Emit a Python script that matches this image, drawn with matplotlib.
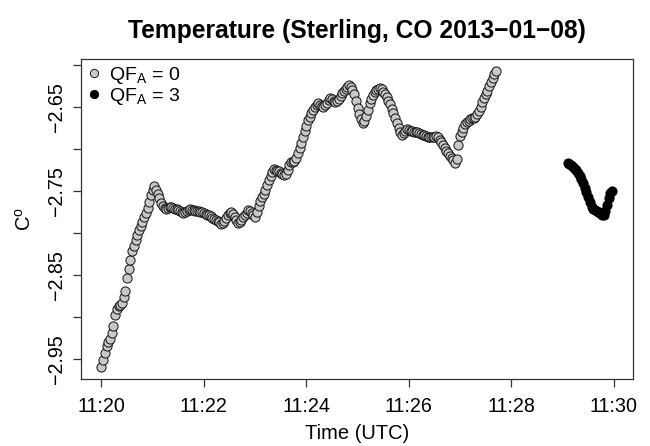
import numpy as np
import matplotlib
matplotlib.use("Agg")
import matplotlib.pyplot as plt
from matplotlib.lines import Line2D

plt.rcParams['font.family'] = ['Liberation Sans', 'DejaVu Sans']
plt.rcParams['mathtext.fontset'] = 'custom'
plt.rcParams['mathtext.rm'] = 'Liberation Sans'
plt.rcParams['mathtext.it'] = 'Liberation Sans:italic'
plt.rcParams['mathtext.bf'] = 'Liberation Sans:bold'

title = "Temperature (Sterling, CO 2013\u221201\u221208)"
xlabel = "Time (UTC)"
ylabel = r"C$^{\mathrm{o}}$"
legend_labels = [r"QF$_{\mathrm{A}}$ = 0", r"QF$_{\mathrm{A}}$ = 3"]

# time in seconds after 11:20:00 UTC, sampled every 2 s
qf0_start_sec = 0
qf3_start_sec = 546
step_sec = 2

qf0_temp = [
    -2.9590, -2.9507, -2.9422, -2.9341, -2.9299, -2.9257, -2.9185, -2.9103, -2.8977, -2.8901,
    -2.8873, -2.8852, -2.8832, -2.8765, -2.8694, -2.8540, -2.8431, -2.8322, -2.8211, -2.8150,
    -2.8089, -2.8026, -2.7966, -2.7917, -2.7867, -2.7815, -2.7761, -2.7698, -2.7628, -2.7543,
    -2.7491, -2.7440, -2.7488, -2.7536, -2.7587, -2.7640, -2.7679, -2.7703, -2.7709, -2.7701,
    -2.7693, -2.7695, -2.7702, -2.7709, -2.7716, -2.7725, -2.7736, -2.7746, -2.7757, -2.7749,
    -2.7739, -2.7729, -2.7719, -2.7723, -2.7728, -2.7733, -2.7738, -2.7744, -2.7749, -2.7754,
    -2.7760, -2.7770, -2.7780, -2.7790, -2.7802, -2.7817, -2.7832, -2.7847, -2.7862, -2.7875,
    -2.7888, -2.7884, -2.7853, -2.7822, -2.7791, -2.7767, -2.7749, -2.7769, -2.7805, -2.7841,
    -2.7876, -2.7868, -2.7840, -2.7812, -2.7785, -2.7757, -2.7730, -2.7744, -2.7766, -2.7787,
    -2.7809, -2.7747, -2.7682, -2.7617, -2.7577, -2.7536, -2.7494, -2.7433, -2.7374, -2.7326,
    -2.7278, -2.7244, -2.7250, -2.7257, -2.7267, -2.7282, -2.7297, -2.7312, -2.7299, -2.7245,
    -2.7190, -2.7160, -2.7153, -2.7146, -2.7109, -2.7048, -2.6987, -2.6926, -2.6858, -2.6787,
    -2.6722, -2.6661, -2.6615, -2.6574, -2.6533, -2.6504, -2.6476, -2.6454, -2.6475, -2.6495,
    -2.6506, -2.6477, -2.6448, -2.6419, -2.6395, -2.6411, -2.6428, -2.6445, -2.6434, -2.6402,
    -2.6369, -2.6337, -2.6309, -2.6285, -2.6262, -2.6238, -2.6266, -2.6294, -2.6346, -2.6427,
    -2.6509, -2.6590, -2.6648, -2.6687, -2.6667, -2.6608, -2.6534, -2.6453, -2.6401, -2.6361,
    -2.6320, -2.6300, -2.6286, -2.6272, -2.6293, -2.6320, -2.6346, -2.6386, -2.6427, -2.6468,
    -2.6522, -2.6576, -2.6630, -2.6693, -2.6753, -2.6796, -2.6829, -2.6806, -2.6783, -2.6767,
    -2.6774, -2.6781, -2.6788, -2.6793, -2.6798, -2.6803, -2.6810, -2.6820, -2.6830, -2.6840,
    -2.6848, -2.6853, -2.6858, -2.6863, -2.6861, -2.6854, -2.6847, -2.6864, -2.6891, -2.6918,
    -2.6951, -2.6985, -2.7019, -2.7050, -2.7080, -2.7107, -2.7134, -2.7162, -2.7121, -2.6958,
    -2.6843, -2.6796, -2.6748, -2.6704, -2.6683, -2.6663, -2.6645, -2.6638, -2.6632, -2.6617,
    -2.6583, -2.6549, -2.6505, -2.6442, -2.6390, -2.6351, -2.6307, -2.6256, -2.6204, -2.6152,
    -2.6108, -2.6071,
]

qf3_temp = [
    -2.7173, -2.7185, -2.7197, -2.7213, -2.7234, -2.7255, -2.7285, -2.7320, -2.7359, -2.7407,
    -2.7459, -2.7513, -2.7573, -2.7634, -2.7693, -2.7714, -2.7727, -2.7734, -2.7745, -2.7765,
    -2.7786, -2.7785, -2.7744, -2.7670, -2.7580, -2.7525, -2.7504,
]

xtick_min = [0, 2, 4, 6, 8, 10]
xtick_labels = ["11:20", "11:22", "11:24", "11:26", "11:28", "11:30"]
ytick_vals = [-2.95, -2.90, -2.85, -2.80, -2.75, -2.70, -2.65, -2.60]
ytick_labels = ["\u22122.95", "", "\u22122.85", "", "\u22122.75", "", "\u22122.65", ""]

qf0_t = (qf0_start_sec + step_sec * np.arange(len(qf0_temp))) / 60.0
qf3_t = (qf3_start_sec + step_sec * np.arange(len(qf3_temp))) / 60.0

W, H = 650, 446
fig = plt.figure(figsize=(W / 100, H / 100), dpi=100)
ax = fig.add_axes([81 / W, 1 - 378.5 / H, (632.5 - 81) / W, (378.5 - 59) / H])

ms = 6.6
ax.plot(qf0_t, qf0_temp, 'o', ms=ms, mfc='#c8c8c8', mec='#111111', mew=0.7, ls='none')
ax.plot(qf3_t, qf3_temp, 'o', ms=ms, mfc='black', mec='black', mew=0.7, ls='none')

# R-style 4% padding
allx = np.concatenate([qf0_t, qf3_t])
ally = np.concatenate([qf0_temp, qf3_temp])
dx = (allx.max() - allx.min()) * 0.04
dy = (ally.max() - ally.min()) * 0.04
ax.set_xlim(allx.min() - dx, allx.max() + dx)
ax.set_ylim(ally.min() - dy, ally.max() + dy)

ax.set_xticks(xtick_min)
ax.set_xticklabels(xtick_labels)
ax.set_yticks(ytick_vals)
ax.set_yticklabels(ytick_labels, rotation=90, va='center')
ax.tick_params(axis='both', direction='out', length=6, width=0.9, labelsize=14.2, color='#333333')
ax.tick_params(axis='x', pad=7)
ax.tick_params(axis='y', pad=5)
for s in ax.spines.values():
    s.set_linewidth(0.9)
    s.set_color('#333333')

ax.set_xlabel(xlabel, fontsize=14.5, labelpad=6)
ax.set_ylabel(ylabel, fontsize=14.5, labelpad=9)
fig.text((81 + 632.5) / 2 / W, 1 - 31 / H, title, ha='center', va='center',
         fontsize=17.7, fontweight='bold')

handles = [
    Line2D([], [], marker='o', ls='none', ms=6, mfc='#c8c8c8', mec='black', mew=0.6),
    Line2D([], [], marker='o', ls='none', ms=6, mfc='black', mec='black', mew=0.6),
]
ax.legend(handles, legend_labels, loc='upper left', frameon=False, fontsize=14,
          handlelength=0.7, handletextpad=0.45, labelspacing=0.0, borderaxespad=0.1,
          borderpad=0.2)

fig.savefig("out.png", dpi=100)
